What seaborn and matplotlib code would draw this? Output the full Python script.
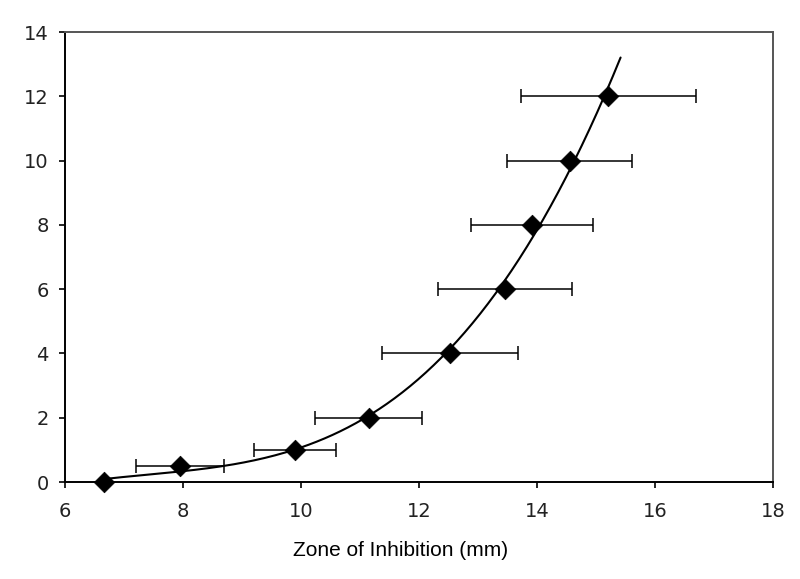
import numpy as np
import pandas as pd
import matplotlib
matplotlib.use("Agg")
import matplotlib.pyplot as plt
import seaborn as sns

# data
zone_mm = [6.66, 7.95, 9.90, 11.15, 12.53, 13.46, 13.92, 14.56, 15.21]
zone_err = [0.0, 0.74, 0.69, 0.91, 1.15, 1.13, 1.03, 1.06, 1.48]
y_vals = [0, 0.5, 1, 2, 4, 6, 8, 10, 12]
fit_end = 15.42

x_ticks = [6, 8, 10, 12, 14, 16, 18]
y_ticks = [0, 2, 4, 6, 8, 10, 12, 14]

df = pd.DataFrame({"zone": zone_mm, "err": zone_err, "y": y_vals})

# trend line (3rd order polynomial fit, as in the spreadsheet)
coef = np.polyfit(df["zone"], df["y"], 3)
xf = np.linspace(df["zone"].iloc[0], fit_end, 200)
fit = pd.DataFrame({"zone": xf, "y": np.polyval(coef, xf)})

sns.set_theme(style="ticks")
plt.rcParams["font.family"] = ["DejaVu Sans"]

fig = plt.figure(figsize=(8, 5.79), dpi=100)
ax = fig.add_axes([0.081, 0.1675, 0.885, 0.7772])

ax.errorbar(df["zone"], df["y"], xerr=df["err"], fmt="none", ecolor="black",
            elinewidth=1.1, capsize=4.7, capthick=1.1, zorder=2)
sns.lineplot(data=fit, x="zone", y="y", color="black", linewidth=1.5,
             ax=ax, zorder=3, sort=False)
sns.scatterplot(data=df, x="zone", y="y", marker="D", s=110, color="black",
                edgecolor="black", linewidth=0.5, ax=ax, zorder=4, clip_on=False)

ax.set_xlim(6, 18)
ax.set_ylim(0, 14)
ax.set_xticks(x_ticks)
ax.set_yticks(y_ticks)
ax.tick_params(axis="both", labelsize=14, length=4.5, width=1.2, color="black",
               labelcolor="#222222", direction="out")
ax.tick_params(axis="x", pad=10)
ax.tick_params(axis="y", pad=7)
ax.set_xlabel("Zone of Inhibition (mm)", fontsize=15, family="Liberation Sans",
              color="black")
ax.xaxis.set_label_coords(0.4746, -0.132)
ax.set_ylabel("")

for side in ["left", "bottom"]:
    ax.spines[side].set_color("black")
    ax.spines[side].set_linewidth(1.4)
for side in ["top", "right"]:
    ax.spines[side].set_visible(True)
    ax.spines[side].set_color("#555555")
    ax.spines[side].set_linewidth(1.4)

fig.savefig("out.png", dpi=100)
